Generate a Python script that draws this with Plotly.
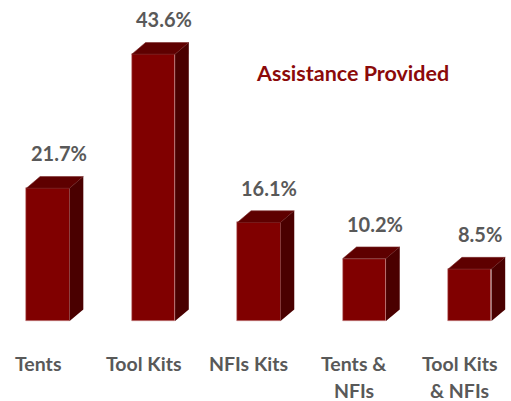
import plotly.graph_objects as go

categories = ["Tents", "Tool Kits", "NFIs Kits", "Tents &<br>NFIs", "Tool Kits<br>& NFIs"]
values = [21.7, 43.6, 16.1, 10.2, 8.5]
value_labels = ["21.7%", "43.6%", "16.1%", "10.2%", "8.5%"]
title_text = "Assistance Provided"

FRONT = "#800000"
TOP = "#5e0000"
SIDE = "#4a0000"
GRAY = "#595959"
FONT = "Lato"

bar_w = 0.41
dx = 0.13
dy = 1.9

xs = list(range(len(categories)))
fig = go.Figure()

fig.add_trace(go.Bar(
    x=xs, y=values, width=bar_w, marker=dict(color=FRONT, line=dict(width=0.6, color="#c98a8a")),
    hoverinfo="skip", showlegend=False))

for i, v in zip(xs, values):
    l, r = i - bar_w / 2, i + bar_w / 2
    # top face
    fig.add_trace(go.Scatter(
        x=[l, r, r + dx, l + dx, l], y=[v, v, v + dy, v + dy, v],
        fill="toself", fillcolor=TOP, mode="lines", line=dict(width=0.6, color="#7a2a2a"),
        hoverinfo="skip", showlegend=False))
    # side face
    fig.add_trace(go.Scatter(
        x=[r, r + dx, r + dx, r, r], y=[0, dy, v + dy, v, 0],
        fill="toself", fillcolor=SIDE, mode="lines", line=dict(width=0, color=SIDE),
        hoverinfo="skip", showlegend=False))

annotations = []
for i, v, t in zip(xs, values, value_labels):
    annotations.append(dict(x=i + 0.1, y=v + 5.7, xref="x", yref="y", text=t, showarrow=False,
                            font=dict(family=FONT, size=20, color=GRAY, weight="bold"),
                            xanchor="center", yanchor="middle"))
for i, c in zip(xs, categories):
    lines = c.split("<br>")
    for k, line in enumerate(lines):
        annotations.append(dict(x=i - 0.095, y=-6.9 - 4.4 * k, xref="x", yref="y", text=line,
                                showarrow=False, borderpad=0,
                                font=dict(family=FONT, size=19.5, color=GRAY, weight="bold"),
                                xanchor="center", yanchor="middle"))
annotations.append(dict(x=352 / 511, y=1 - 73 / 401, xref="paper", yref="paper", text=title_text,
                        showarrow=False, font=dict(family=FONT, size=21.5, color="#8B0A0A", weight="bold"),
                        xanchor="center", yanchor="middle"))

fig.update_layout(
    width=511, height=401, autosize=False,
    margin=dict(l=0, r=0, t=0, b=0),
    paper_bgcolor="white", plot_bgcolor="white",
    xaxis=dict(range=[-0.455, 4.39], visible=False, fixedrange=True),
    yaxis=dict(range=[-13.07, 52.45], visible=False, fixedrange=True),
    annotations=annotations,
    bargap=0,
)

fig.write_html("out.html", config={"displayModeBar": False},
               post_script="document.body.style.margin='0';document.body.style.overflow='hidden';")
